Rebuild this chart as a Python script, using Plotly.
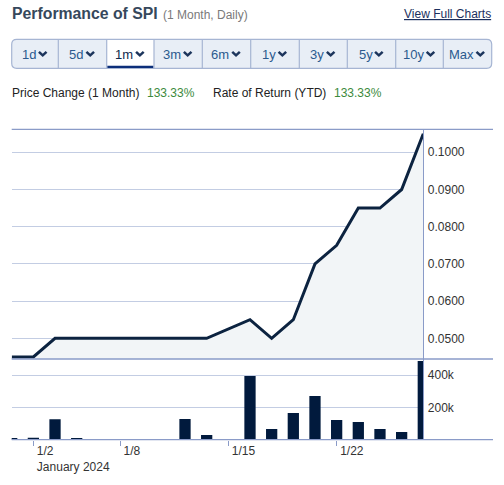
import plotly.graph_objects as go

# ---------------- data ----------------
dates = ["2023-12-29", "2024-01-02", "2024-01-03", "2024-01-04", "2024-01-05",
         "2024-01-08", "2024-01-09", "2024-01-10", "2024-01-11", "2024-01-12",
         "2024-01-15", "2024-01-16", "2024-01-17", "2024-01-18", "2024-01-19",
         "2024-01-22", "2024-01-23", "2024-01-24", "2024-01-25", "2024-01-26"]
prices = [0.045, 0.045, 0.050, 0.050, 0.050,
          0.050, 0.050, 0.050, 0.050, 0.050,
          None, 0.055, 0.050, 0.055, 0.070,
          0.075, 0.085, 0.085, 0.090, 0.105]
volumes = [10000, 12000, 126000, 10000, 0,
           0, 0, 0, 128000, 28000,
           None, 394000, 65000, 165000, 270000,
           121000, 109000, 65000, 47000, 487000]
tick_dates = ["2024-01-02", "2024-01-08", "2024-01-15", "2024-01-22"]
tick_labels = ["1/2<br>January 2024", "1/8", "1/15", "1/22"]
price_ticks = [0.05, 0.06, 0.07, 0.08, 0.09, 0.10]
vol_ticks = [200000, 400000]
vol_tick_labels = ["200k", "400k"]
range_buttons = ["1d", "5d", "1m", "3m", "6m", "1y", "3y", "5y", "10y", "Max"]
selected_button = "1m"
price_change = "133.33%"
rate_of_return = "133.33%"

# ---------------- geometry helpers ----------------
W, H = 504, 485
FONT = "Liberation Sans, Arial, sans-serif"


def px(x):
    return x / W


def py(y):
    return 1 - y / H


GRID = "#c3cde3"
AXIS = "#8a9bc8"

X_LEFT, X_RIGHT = 11.7, 423.3
PRICE_TOP, PRICE_BOT = 129.3, 359.0
VOL_BOT = 439.6

fig = go.Figure()

fig.add_trace(go.Scatter(
    x=dates, y=prices, mode="lines", connectgaps=True,
    line=dict(color="#0c2340", width=3),
    fill="tozeroy", fillcolor="#f2f5f7",
    xaxis="x", yaxis="y", hoverinfo="skip", showlegend=False))

fig.add_trace(go.Bar(
    x=dates, y=volumes, marker=dict(color="#011a3d", line=dict(width=0)),
    width=0.52, xaxis="x2", yaxis="y2", hoverinfo="skip", showlegend=False))

axis_font = dict(family=FONT, size=12, color="#333333")

fig.update_layout(
    width=W, height=H,
    margin=dict(l=0, r=0, t=0, b=0),
    paper_bgcolor="white", plot_bgcolor="white",
    template=None,
    showlegend=False,
    xaxis=dict(domain=[px(X_LEFT), px(X_RIGHT)], anchor="y", type="category",
               categoryorder="array", categoryarray=dates,
               range=[0, len(dates) - 1], showticklabels=False,
               showgrid=False, zeroline=False, showline=False, ticks=""),
    yaxis=dict(domain=[py(PRICE_BOT), py(PRICE_TOP)], anchor="x", side="right",
               range=[0.04444, 0.10618], tickvals=price_ticks, tickformat=".4f",
               showgrid=True, gridcolor=GRID, gridwidth=1, zeroline=False,
               showline=True, linecolor=AXIS, linewidth=1.2,
               ticks="", ticklabelstandoff=1, tickfont=axis_font),
    xaxis2=dict(domain=[px(X_LEFT), px(X_RIGHT)], anchor="y2", type="category",
                categoryorder="array", categoryarray=dates,
                range=[0, len(dates) - 1], matches="x",
                tickvals=tick_dates, ticktext=tick_labels,
                ticklabelposition="outside right", ticklabelshift=3,
                ticks="outside", ticklen=5, tickcolor=AXIS, tickwidth=1,
                showgrid=False, zeroline=False, showline=False,
                tickfont=axis_font),
    yaxis2=dict(domain=[py(VOL_BOT), py(PRICE_BOT)], anchor="x2", side="right",
                range=[0, 500000], tickvals=vol_ticks, ticktext=vol_tick_labels,
                showgrid=True, gridcolor=GRID, gridwidth=1, zeroline=False,
                showline=True, linecolor=AXIS, linewidth=1.2,
                ticks="", ticklabelstandoff=1, tickfont=axis_font),
    bargap=0.48,
)

shapes = []
# horizontal frame lines extending past the plot
for yy in (PRICE_TOP, PRICE_BOT, VOL_BOT):
    shapes.append(dict(type="line", xref="paper", yref="paper",
                       x0=px(X_LEFT), x1=px(493), y0=py(yy), y1=py(yy),
                       line=dict(color=AXIS, width=1.3), layer="above"))

# ---------- range buttons ----------
BX0, BX1 = 11.7, 491.7
BY0, BY1 = 39.3, 68.3
dividers = [11.7, 58.3, 106.7, 154.0, 202.3, 250.7, 299.3, 347.3, 395.7, 443.3, 491.7]
r = 5.0


def rounded_rect_path(x0, y0, x1, y1, rad):
    rx, ry = rad / W, rad / H
    X0, X1, Y0, Y1 = px(x0), px(x1), py(y0), py(y1)  # Y0 top, Y1 bottom
    return (f"M {X0+rx},{Y0} L {X1-rx},{Y0} Q {X1},{Y0} {X1},{Y0-ry} "
            f"L {X1},{Y1+ry} Q {X1},{Y1} {X1-rx},{Y1} L {X0+rx},{Y1} "
            f"Q {X0},{Y1} {X0},{Y1+ry} L {X0},{Y0-ry} Q {X0},{Y0} {X0+rx},{Y0} Z")


shapes.append(dict(type="path", xref="paper", yref="paper",
                   path=rounded_rect_path(BX0, BY0, BX1, BY1, r),
                   fillcolor="#e8eef6", line=dict(color="#a6b5d3", width=1.2),
                   layer="below"))

sel_i = range_buttons.index(selected_button)
shapes.append(dict(type="rect", xref="paper", yref="paper",
                   x0=px(dividers[sel_i]), x1=px(dividers[sel_i + 1]),
                   y0=py(BY1 - 0.6), y1=py(BY0 + 0.6),
                   fillcolor="white", line=dict(width=0), layer="below"))
shapes.append(dict(type="rect", xref="paper", yref="paper",
                   x0=px(dividers[sel_i] + 0.5), x1=px(dividers[sel_i + 1] - 0.5),
                   y0=py(BY1 - 0.3), y1=py(BY1 - 2.6),
                   fillcolor="#0b2e7a", line=dict(width=0), layer="above"))
for d in dividers[1:-1]:
    shapes.append(dict(type="line", xref="paper", yref="paper",
                       x0=px(d), x1=px(d), y0=py(BY0), y1=py(BY1),
                       line=dict(color="#a6b5d3", width=1.2), layer="above"))

char_w = {'1': .556, '0': .556, '3': .556, '5': .556, '6': .556, 'd': .556,
          'm': .833, 'y': .5, 'M': .833, 'a': .556, 'x': .5}
BFS = 13
annotations = []
BTN_MID = 54.0
for i, lab in enumerate(range_buttons):
    cx = (dividers[i] + dividers[i + 1]) / 2 - 1
    tw = sum(char_w.get(c, .556) for c in lab) * BFS
    group = tw + 3.5 + 8.5
    left = cx - group / 2
    col = "#0d2a4d" if lab == selected_button else "#2b5a8e"
    annotations.append(dict(x=px(left), y=py(BTN_MID), xref="paper", yref="paper",
                            text=lab, showarrow=False, xanchor="left", yanchor="middle",
                            xshift=-1,
                            font=dict(family=FONT, size=BFS, color=col)))
    ccx = left + tw + 3.5 + 4.0
    shapes.append(dict(type="path", xref="paper", yref="paper",
                       path=(f"M {px(ccx-3.8)},{py(51.8)} L {px(ccx)},{py(55.4)} "
                             f"L {px(ccx+3.8)},{py(51.8)}"),
                       line=dict(color="#1c355c", width=2.5), layer="above"))

# ---------- header texts ----------
annotations.append(dict(x=px(11.7), y=py(13.5), xref="paper", yref="paper",
                        text="<b>Performance of SPI</b>", showarrow=False,
                        xanchor="left", yanchor="middle", xshift=-2,
                        font=dict(family=FONT, size=15.8, color="#36485c")))
annotations.append(dict(x=px(162), y=py(14.5), xref="paper", yref="paper",
                        text="(1 Month, Daily)", showarrow=False,
                        xanchor="left", yanchor="middle", xshift=-1,
                        font=dict(family=FONT, size=12, color="#7a7a7a")))
annotations.append(dict(x=px(491.7), y=py(13.5), xref="paper", yref="paper",
                        text="<u>View Full Charts</u>", showarrow=False,
                        xanchor="right", yanchor="middle", xshift=1,
                        font=dict(family=FONT, size=12, color="#1b2f5e")))

row_y = py(93)
row_items = [(11.7, "Price Change (1 Month)", "#222222"),
             (146.7, price_change, "#3c8a3c"),
             (212.7, "Rate of Return (YTD)", "#222222"),
             (334.3, rate_of_return, "#3c8a3c")]
for xx, txt, col in row_items:
    annotations.append(dict(x=px(xx), y=row_y, xref="paper", yref="paper",
                            text=txt, showarrow=False, xshift=-2,
                            xanchor="left", yanchor="middle",
                            font=dict(family=FONT, size=12, color=col)))

fig.update_layout(shapes=shapes, annotations=annotations)
fig.write_html("out.html", config={"displayModeBar": False},
               post_script="document.body.style.margin='0';document.body.style.overflow='hidden';")
